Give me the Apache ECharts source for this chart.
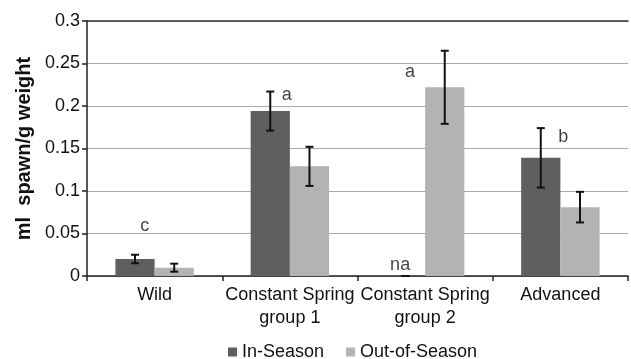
<!DOCTYPE html>
<html>
<head>
<meta charset="utf-8">
<script src="https://cdn.jsdelivr.net/npm/echarts@6/dist/echarts.min.js"></script>
<style>
html,body{margin:0;padding:0;background:#fff;}
#chart{width:631px;height:359px;}
</style>
</head>
<body>
<div id="chart"></div>
<script>
const categories = ['Wild', 'Constant Spring\ngroup 1', 'Constant Spring\ngroup 2', 'Advanced'];
const seriesNames = ['In-Season', 'Out-of-Season'];
const inSeason = [0.020, 0.194, 0, 0.139];
const inSeasonErr = [0.005, 0.023, 0, 0.035];
const outSeason = [0.0098, 0.129, 0.222, 0.081];
const outSeasonErr = [0.0047, 0.023, 0.043, 0.018];
const letterText = ['c', 'a', 'na', 'a', 'b'];
const letterCat = [0, 1, 2, 2, 3];
const letterY = [0.059, 0.213, 0.013, 0.240, 0.1635];
const yTicks = [0, 0.05, 0.1, 0.15, 0.2, 0.25, 0.3];

const letterDx = [-10, -3, -25, -15, 3];
const barFrac = 0.58;
const FONT = 'Liberation Sans, Arial, sans-serif';
const INK = '#111';

function errorSeries(means, errs, sign) {
  return {
    type: 'custom',
    z: 5,
    data: means.map((m, i) => [i, m, errs[i]]),
    renderItem: function (params, api) {
      const cat = api.value(0), m = api.value(1), e = api.value(2);
      const band = api.size([1, 0])[0];
      const dx = sign * band * barFrac / 4;
      const top = api.coord([cat, m + e]);
      const bot = api.coord([cat, m - e]);
      const x = top[0] + dx;
      const hw = 4;
      const style = { stroke: '#111', lineWidth: 2 };
      return {
        type: 'group',
        children: [
          { type: 'line', shape: { x1: x, y1: top[1], x2: x, y2: bot[1] }, style: style },
          { type: 'line', shape: { x1: x - hw, y1: top[1], x2: x + hw, y2: top[1] }, style: style },
          { type: 'line', shape: { x1: x - hw, y1: bot[1], x2: x + hw, y2: bot[1] }, style: style }
        ]
      };
    }
  };
}

const chart = echarts.init(document.getElementById('chart'), null, { renderer: 'canvas' });
chart.setOption({
  animation: false,
  backgroundColor: '#fff',
  textStyle: { fontFamily: FONT },
  grid: { left: 87, right: 3, top: 21, bottom: 83, containLabel: false },
  legend: {
    data: seriesNames,
    left: 228,
    top: 343,
    padding: 0,
    itemWidth: 9,
    itemHeight: 9,
    itemGap: 22,
    icon: 'rect',
    textStyle: { fontSize: 18, color: INK, fontFamily: FONT }
  },
  xAxis: [{
    type: 'category',
    data: categories,
    boundaryGap: true,
    axisLine: { lineStyle: { color: '#222', width: 1.5 } },
    axisTick: { show: true, length: 5, alignWithLabel: false, lineStyle: { color: '#222', width: 1.5 } },
    axisLabel: { fontSize: 18, color: INK, lineHeight: 23, margin: 8, interval: 0, fontFamily: FONT }
  }, {
    type: 'category',
    data: categories,
    position: 'top',
    axisLine: { show: true, lineStyle: { color: '#333', width: 1.5 } },
    axisTick: { show: false },
    axisLabel: { show: false }
  }],
  yAxis: {
    type: 'value',
    min: 0,
    max: 0.3,
    interval: 0.05,
    name: 'ml  spawn/g weight',
    nameLocation: 'middle',
    nameGap: 51,
    nameTextStyle: { fontSize: 20, fontWeight: 'bold', color: INK, fontFamily: FONT },
    axisLine: { show: true, lineStyle: { color: '#222', width: 1.5 } },
    axisTick: { show: true, length: 5, lineStyle: { color: '#222', width: 1.5 } },
    axisLabel: {
      fontSize: 18, color: INK, margin: 7, fontFamily: FONT,
      formatter: function (v) {
        const t = yTicks.find(k => Math.abs(k - v) < 1e-9);
        return t === undefined ? '' : String(t);
      }
    },
    splitLine: { show: true, lineStyle: { color: '#a9a9a9', width: 1.2 } }
  },
  series: [
    {
      name: seriesNames[0], type: 'bar', data: inSeason,
      barGap: '0%', barCategoryGap: '42%',
      itemStyle: { color: '#5f5f5f' }
    },
    {
      name: seriesNames[1], type: 'bar', data: outSeason,
      barGap: '0%', barCategoryGap: '42%',
      itemStyle: { color: '#b3b3b3' }
    },
    errorSeries(inSeason, inSeasonErr, -1),
    errorSeries(outSeason, outSeasonErr, 1),
    {
      type: 'scatter',
      symbolSize: 1,
      itemStyle: { color: 'rgba(0,0,0,0)' },
      z: 6,
      data: letterText.map((t, i) => ({
        value: [letterCat[i], letterY[i]],
        label: {
          show: true, position: 'inside', formatter: t,
          offset: [letterDx[i], 0], fontSize: 18, color: INK, fontFamily: FONT
        }
      }))
    }
  ]
});
</script>
</body>
</html>
